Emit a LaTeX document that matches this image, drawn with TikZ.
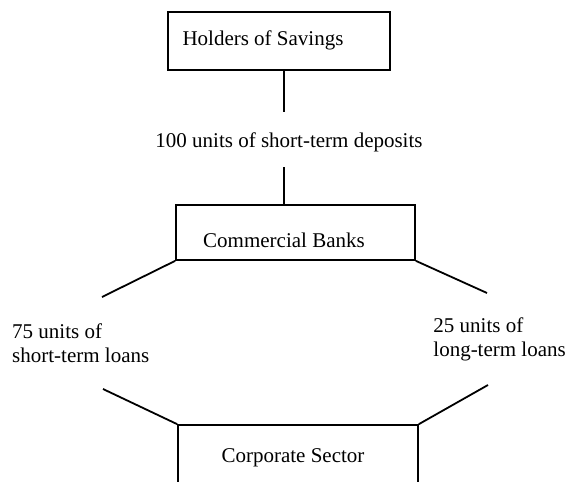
\documentclass[tikz,border=0pt]{standalone}
\usepackage{fontspec}
\setmainfont{Liberation Serif}
\begin{document}
\begin{tikzpicture}[x=1pt,y=-1pt,
  box/.style={draw,line width=1.7pt,inner sep=0pt},
  txt/.style={inner sep=0pt,font=\fontsize{21}{24}\selectfont},
  conn/.style={line width=1.8pt}]
\useasboundingbox (0,0) rectangle (571,482);
% boxes
\node[box,minimum width=222pt,minimum height=58pt] (hos) at (279,41) {};
\node[box,minimum width=239pt,minimum height=55pt] (cb) at (295.5,232.5) {};
\node[box,minimum width=240pt,minimum height=58pt] (cs) at (298,454) {};
% box texts
\node[txt,anchor=base] (hostxt) at (263,45) {Holders of Savings};
\node[txt,anchor=base] (cbtxt) at (284,247) {Commercial Banks};
\node[txt,anchor=base] (cstxt) at (293,462) {Corporate Sector};
% connector labels
\node[txt,anchor=base] (dep) at (289,147) {100 units of short-term deposits};
\node[txt,anchor=west,align=left] (stl) at (12,343) {75 units of\\short-term loans};
\node[txt,anchor=east,align=left] (ltl) at (566,339) {25 units of\\long-term loans};
% connector end points
\coordinate (d1) at (284,112);
\coordinate (d2) at (284,167);
\coordinate (l1) at (102,297);
\coordinate (r1) at (487,293);
\coordinate (l2) at (103,389);
\coordinate (r2) at (488,385);
% connectors
\draw[conn] (hos.south -| d1) -- (d1);
\draw[conn] (d2) -- (cb.north -| d2);
\draw[conn] (cb.south west) -- (l1);
\draw[conn] (cb.south east) -- (r1);
\draw[conn] (l2) -- (cs.north west);
\draw[conn] (r2) -- (cs.north east);
\end{tikzpicture}
\end{document}
